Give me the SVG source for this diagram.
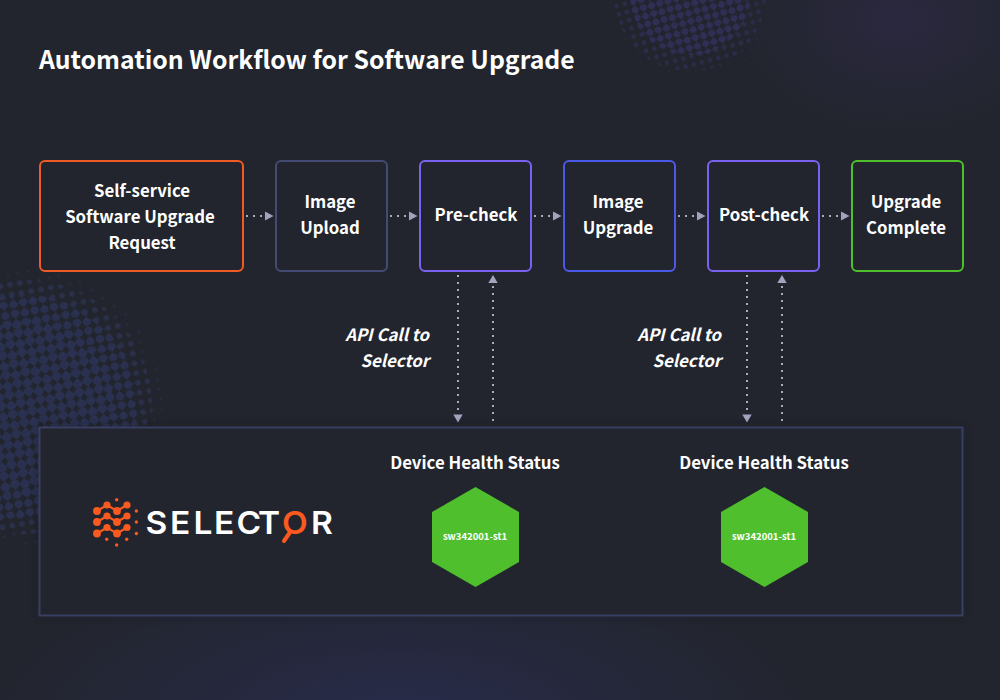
<svg xmlns="http://www.w3.org/2000/svg" width="1000" height="700" viewBox="0 0 1000 700">
<style>
text{font-family:"Noto Sans CJK JP","Noto Sans",sans-serif;fill:#fff;font-weight:700}
.l{font-size:16.800px;text-anchor:middle}
.i{font-size:16.800px;text-anchor:end;font-style:italic}
.b{fill:#22252d;stroke-width:2}
.c{stroke:#a9abc4;stroke-width:2;stroke-dasharray:2 5;fill:none}
.a{fill:#a1a4bd}
.or{fill:#fa5a20}
.ol{stroke:#fa5a20;stroke-width:2.200;fill:none}
</style>
<defs>
<pattern id="p1" width="14" height="14" patternUnits="userSpaceOnUse" patternTransform="rotate(35)"><circle cx="3.500" cy="3.500" r="5" fill="#2a3150"/><circle cx="10.500" cy="10.500" r="5" fill="#2a3150"/></pattern>
<pattern id="p2" width="14" height="14" patternUnits="userSpaceOnUse" patternTransform="rotate(35)"><circle cx="3.500" cy="3.500" r="4.200" fill="#2a3150"/><circle cx="10.500" cy="10.500" r="4.200" fill="#2a3150"/></pattern>
<pattern id="p3" width="14" height="14" patternUnits="userSpaceOnUse" patternTransform="rotate(35)"><circle cx="3.500" cy="3.500" r="2.800" fill="#2a3049"/><circle cx="10.500" cy="10.500" r="2.800" fill="#2a3049"/></pattern>
<pattern id="p4" width="14" height="14" patternUnits="userSpaceOnUse" patternTransform="rotate(35)"><circle cx="3.500" cy="3.500" r="1.300" fill="#282c40"/><circle cx="10.500" cy="10.500" r="1.300" fill="#282c40"/></pattern>
<pattern id="q1" width="12" height="12" patternUnits="userSpaceOnUse" patternTransform="rotate(30)"><circle cx="3" cy="3" r="3.500" fill="#312d55"/><circle cx="9" cy="9" r="3.500" fill="#312d55"/></pattern>
<pattern id="q2" width="12" height="12" patternUnits="userSpaceOnUse" patternTransform="rotate(30)"><circle cx="3" cy="3" r="2.300" fill="#2e2b4a"/><circle cx="9" cy="9" r="2.300" fill="#2e2b4a"/></pattern>
<pattern id="q3" width="12" height="12" patternUnits="userSpaceOnUse" patternTransform="rotate(30)"><circle cx="3" cy="3" r="1" fill="#292839"/><circle cx="9" cy="9" r="1" fill="#292839"/></pattern>
<radialGradient id="gb"><stop offset="0" stop-color="#282c4c"/><stop offset=".5" stop-color="#272a45" stop-opacity=".6"/><stop offset="1" stop-color="#272a45" stop-opacity="0"/></radialGradient>
<radialGradient id="gp"><stop offset="0" stop-color="#2a283f"/><stop offset="1" stop-color="#2a283f" stop-opacity="0"/></radialGradient>
<filter id="sh" x="-5%" y="-10%" width="110%" height="120%"><feGaussianBlur stdDeviation="5"/></filter>
</defs>
<rect width="1000" height="700" fill="#22252d"/>
<g id="background">
<ellipse cx="400" cy="720" rx="430" ry="170" fill="url(#gb)"/>
<ellipse cx="900" cy="20" rx="170" ry="120" fill="url(#gp)"/>
<circle cx="25" cy="407" r="138" fill="url(#p4)"/>
<circle cx="25" cy="407" r="127" fill="url(#p3)"/>
<circle cx="25" cy="407" r="112" fill="url(#p2)"/>
<circle cx="25" cy="407" r="88" fill="url(#p1)"/>
<ellipse cx="690" cy="-5" rx="88" ry="88" fill="url(#q3)"/>
<ellipse cx="690" cy="-5" rx="76" ry="76" fill="url(#q2)"/>
<ellipse cx="690" cy="-5" rx="60" ry="60" fill="url(#q1)"/>
</g>
<text x="39" y="69" style="font-size:24.800px">Automation Workflow for Software Upgrade</text>
<g id="connectors">
<path class="c" d="M246 216H264M390 216H408M534 216H552M678 216H696M822 216H840"/>
<path class="a" d="M273.500 216l-8.500-4.500v9zM417.500 216l-8.500-4.500v9zM561.500 216l-8.500-4.500v9zM705.500 216l-8.500-4.500v9zM849.500 216l-8.500-4.500v9z"/>
<path class="c" d="M458 275V414M493 286V424M747 275V414M782 286V424"/>
<path class="a" d="M458 422.500l-4.700-8h9.400zM493 275l-4.700 8h9.400zM747 422.500l-4.700-8h9.400zM782 275l-4.700 8h9.400z"/>
</g>
<g id="n1"><rect class="b" x="40" y="161" width="203" height="110" rx="5" stroke="#f05a24"/><text class="l" x="142" y="197">Self-service</text><text class="l" x="140" y="223">Software Upgrade</text><text class="l" x="142" y="249">Request</text></g>
<g id="n2"><rect class="b" x="276" y="161" width="111" height="110" rx="5" stroke="#434a74"/><text class="l" x="330" y="208">Image</text><text class="l" x="330" y="234">Upload</text></g>
<g id="n3"><rect class="b" x="420" y="161" width="111" height="110" rx="5" stroke="#7b61f0"/><text class="l" x="476" y="221">Pre-check</text></g>
<g id="n4"><rect class="b" x="564" y="161" width="111" height="110" rx="5" stroke="#4a5ae8"/><text class="l" x="618" y="208">Image</text><text class="l" x="618" y="234">Upgrade</text></g>
<g id="n5"><rect class="b" x="708" y="161" width="111" height="110" rx="5" stroke="#7b61f0"/><text class="l" x="764" y="221">Post-check</text></g>
<g id="n6"><rect class="b" x="852" y="161" width="111" height="110" rx="5" stroke="#4fbf2d"/><text class="l" x="906" y="208">Upgrade</text><text class="l" x="906" y="234">Complete</text></g>
<text class="i" x="429" y="341">API Call to</text><text class="i" x="429" y="367">Selector</text>
<text class="i" x="721" y="341">API Call to</text><text class="i" x="721" y="367">Selector</text>
<g id="panel"><rect x="39.500" y="427.500" width="923" height="188" fill="#15171c" opacity=".45" filter="url(#sh)"/><rect x="39.500" y="427.500" width="923" height="188" fill="#22252d" stroke="#393e63" stroke-width="2"/></g>
<g id="logo">
<path class="ol" d="M97 511l10-6 10 6 10-6M97 522l10-6 10 6 10-6M97 533.500l10-6 10 6 10-6"/>
<g class="or"><circle cx="97" cy="511" r="3.900"/><circle cx="107" cy="505" r="3.600"/><circle cx="117" cy="511" r="3.900"/><circle cx="127" cy="505" r="3.600"/><circle cx="97" cy="522" r="3.900"/><circle cx="107" cy="516" r="3.600"/><circle cx="117" cy="522" r="3.900"/><circle cx="127" cy="516" r="3.600"/><circle cx="97" cy="533.500" r="3.900"/><circle cx="107" cy="527.500" r="3.600"/><circle cx="117" cy="533.500" r="3.900"/><circle cx="127" cy="527.500" r="3.600"/><circle cx="116.700" cy="499.800" r="1.700"/><circle cx="136.400" cy="511" r="1.700"/><circle cx="136.400" cy="522" r="1.700"/><circle cx="136.400" cy="533.500" r="1.700"/><circle cx="106.700" cy="539.300" r="1.700"/><circle cx="126.700" cy="539.300" r="1.700"/><circle cx="116.700" cy="545" r="1.700"/></g>
<text y="534" x="134.700 157.400 179.200 198.100 219 238.900 261.100 288" transform="scale(1.080 1)" style="font-family:Inter,'Liberation Sans',sans-serif;font-size:31px;font-weight:600">SELECT<tspan fill="#fa5a20" style="fill:#fa5a20">O</tspan>R</text>
<path d="M289.500 533L284 541" stroke="#fa5a20" stroke-width="4" stroke-linecap="round" fill="none"/>
</g>
<g id="h1"><text class="l" x="475" y="469">Device Health Status</text><path d="M475.500 487L519 512V562L475.500 587L432 562V512Z" fill="#4fbf2d"/><text x="475" y="540" text-anchor="middle" style="font-size:9.500px">sw342001-st1</text></g>
<g id="h2"><text class="l" x="764" y="469">Device Health Status</text><path d="M764.500 487L808 512V562L764.500 587L721 562V512Z" fill="#4fbf2d"/><text x="764" y="540" text-anchor="middle" style="font-size:9.500px">sw342001-st1</text></g>
</svg>
